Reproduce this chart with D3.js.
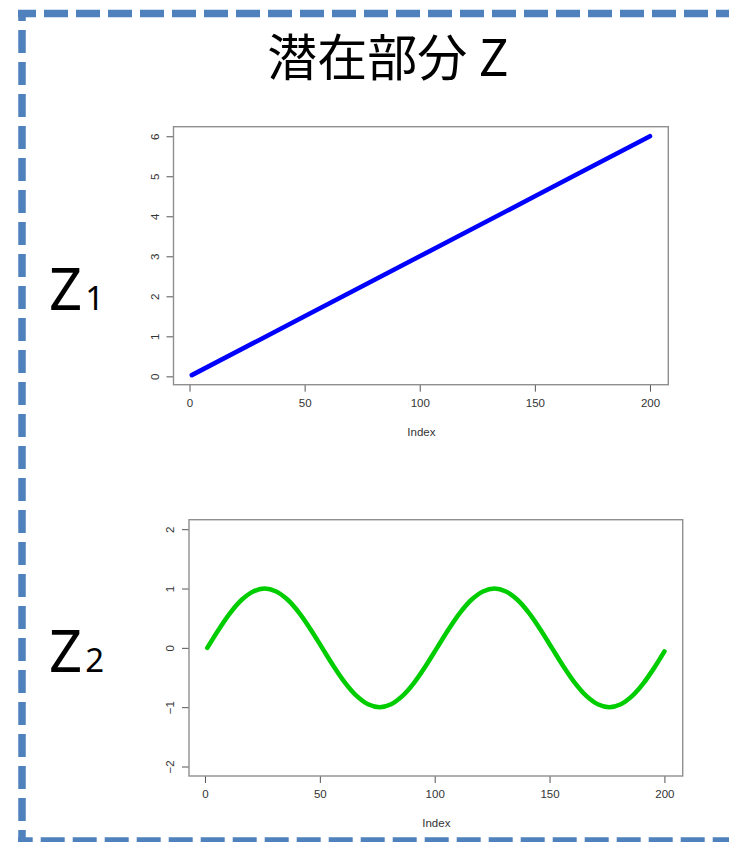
<!DOCTYPE html>
<html>
<head>
<meta charset="utf-8">
<script src="https://cdn.jsdelivr.net/npm/d3@7"></script>
<style>
  html, body { margin: 0; padding: 0; background: #fff; }
  svg { display: block; }
</style>
</head>
<body>
<svg id="chart" width="729" height="842"></svg>
<script>
// ---- data ----
const title = "潜在部分 Z";
const xTicks = [0, 50, 100, 150, 200];

// Z1: straight rising line
const z1Index = [1, 50, 100, 150, 200];
const z1Values = [0.03, 1.5, 3.0, 4.5, 6.0];
const z1Ticks = [0, 1, 2, 3, 4, 5, 6];

// Z2: wave, sampled every 5 steps
const z2Index = [1, 6, 11, 16, 21, 26, 31, 36, 41, 46, 51, 56, 61, 66, 71, 76, 81, 86, 91, 96,
                 101, 106, 111, 116, 121, 126, 131, 136, 141, 146, 151, 156, 161, 166, 171, 176,
                 181, 186, 191, 196, 200];
const z2Values = [0.00, 0.31, 0.59, 0.81, 0.95, 1.00, 0.95, 0.81, 0.59, 0.31,
                  0.00, -0.31, -0.59, -0.81, -0.95, -1.00, -0.95, -0.81, -0.59, -0.31,
                  0.00, 0.31, 0.59, 0.81, 0.95, 1.00, 0.95, 0.81, 0.59, 0.31,
                  0.00, -0.31, -0.59, -0.81, -0.95, -1.00, -0.95, -0.81, -0.59, -0.31,
                  -0.06];
const z2Limits = [-2, 2];
const z2Ticks = [-2, -1, 0, 1, 2];

// ---- helpers ----
const svg = d3.select("#chart");
const pad4 = ([a, b]) => { const d = (b - a) * 0.04; return [a - d, b + d]; };

// dashed frame
const frame = svg.append("g")
  .attr("fill", "none")
  .attr("stroke", "#4f81bd")
  .attr("stroke-width", 7.5);
frame.append("line").attr("x1", 18).attr("x2", 740).attr("y1", 13.5).attr("y2", 13.5)
  .attr("stroke-dasharray", "24 8").attr("stroke-dashoffset", 6);
frame.append("line").attr("x1", 22).attr("x2", 22).attr("y1", 10).attr("y2", 850)
  .attr("stroke-dasharray", "23 9").attr("stroke-dashoffset", 12);
frame.append("line").attr("x1", 18).attr("x2", 740).attr("y1", 841).attr("y2", 841)
  .attr("stroke-dasharray", "24 8").attr("stroke-dashoffset", 9.3);

// title
svg.append("text")
  .attr("x", 388).attr("y", 76)
  .attr("text-anchor", "middle")
  .attr("font-family", "'Noto Sans CJK JP', 'Noto Sans CJK SC', sans-serif")
  .attr("font-size", 50)
  .attr("fill", "#000")
  .text(title);

function panel(opts) {
  const { left, right, top, bottom, xs, ys, yDomain, yTicks, color, labelY, sub } = opts;
  const x = d3.scaleLinear().domain(pad4([1, 200])).range([left, right]);
  const y = d3.scaleLinear().domain(pad4(yDomain)).range([bottom, top]);
  const g = svg.append("g");

  // x axis
  const gx = g.append("g")
    .attr("transform", `translate(0,${bottom})`)
    .call(d3.axisBottom(x).tickValues(xTicks).tickSize(7).tickPadding(7).tickFormat(d3.format("d")));
  // y axis
  const gy = g.append("g")
    .attr("transform", `translate(${left},0)`)
    .call(d3.axisLeft(y).tickValues(yTicks).tickSize(7).tickFormat(d3.format("d")));

  [gx, gy].forEach(a => {
    a.select(".domain").remove();
    a.selectAll(".tick line").attr("stroke", "#555").attr("stroke-width", 1);
    a.selectAll(".tick text")
      .attr("font-family", "'Liberation Sans', Arial, sans-serif")
      .attr("font-size", 11.5)
      .attr("fill", "#333");
  });
  gy.selectAll(".tick text")
    .attr("x", 0).attr("dy", "0.35em")
    .attr("text-anchor", "middle")
    .attr("transform", "translate(-19,0) rotate(-90)");

  // plot box
  g.append("rect")
    .attr("x", left).attr("y", top)
    .attr("width", right - left).attr("height", bottom - top)
    .attr("fill", "none").attr("stroke", "#8f8f8f").attr("stroke-width", 1.4);

  // x title
  g.append("text")
    .attr("x", (x(1) + x(200)) / 2 + 0.5).attr("y", bottom + 51)
    .attr("text-anchor", "middle")
    .attr("font-family", "'Liberation Sans', Arial, sans-serif")
    .attr("font-size", 11.5).attr("fill", "#333")
    .text("Index");

  // series
  const pts = xs.map((d, i) => [d, ys[i]]);
  g.append("path")
    .datum(pts)
    .attr("fill", "none")
    .attr("stroke", color)
    .attr("stroke-width", 4.6)
    .attr("stroke-linecap", "round")
    .attr("stroke-linejoin", "round")
    .attr("d", d3.line().x(d => x(d[0])).y(d => y(d[1])).curve(d3.curveCatmullRom.alpha(0.5)));

  // side label Z with subscript
  const t = svg.append("text")
    .attr("x", 49).attr("y", labelY)
    .attr("font-family", "'Noto Sans', 'Open Sans', sans-serif")
    .attr("fill", "#000");
  t.append("tspan").attr("font-size", 58).text("Z");
  t.append("tspan").attr("font-size", 33).attr("dx", 3).text(sub);
}

panel({
  left: 173.5, right: 668.3, top: 126.7, bottom: 384.7,
  xs: z1Index, ys: z1Values, yDomain: d3.extent(z1Values), yTicks: z1Ticks,
  color: "#0000ff", labelY: 310, sub: "1"
});

panel({
  left: 189, right: 682.7, top: 519.7, bottom: 776,
  xs: z2Index, ys: z2Values, yDomain: z2Limits, yTicks: z2Ticks,
  color: "#00cd00", labelY: 672, sub: "2"
});
</script>
</body>
</html>
